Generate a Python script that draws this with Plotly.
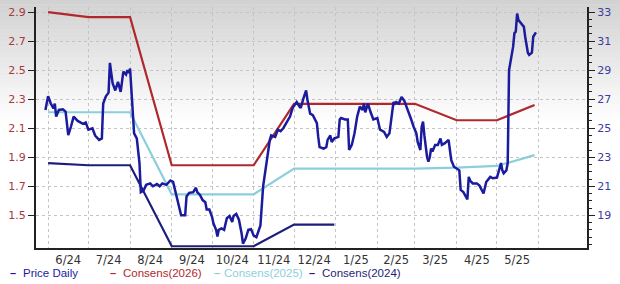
import plotly.graph_objects as go

# ---------------- data ----------------
price_dates = [
    "2024-05-30", "2024-06-01", "2024-06-03", "2024-06-05", "2024-06-06", "2024-06-07", "2024-06-09",
    "2024-06-12", "2024-06-14", "2024-06-16", "2024-06-18", "2024-06-20", "2024-06-23", "2024-06-27",
    "2024-06-29", "2024-07-01", "2024-07-04", "2024-07-06", "2024-07-09", "2024-07-11", "2024-07-12",
    "2024-07-14", "2024-07-16", "2024-07-17", "2024-07-19", "2024-07-21", "2024-07-23", "2024-07-24",
    "2024-07-25", "2024-07-27", "2024-07-29", "2024-07-30", "2024-07-31", "2024-08-01", "2024-08-04",
    "2024-08-06", "2024-08-08", "2024-08-09", "2024-08-11", "2024-08-13", "2024-08-16", "2024-08-18",
    "2024-08-21", "2024-08-23", "2024-08-25", "2024-08-28", "2024-08-31", "2024-09-02", "2024-09-04",
    "2024-09-06", "2024-09-08", "2024-09-11", "2024-09-12", "2024-09-14", "2024-09-17", "2024-09-19",
    "2024-09-20", "2024-09-22", "2024-09-24", "2024-09-26", "2024-09-27", "2024-09-29", "2024-10-01",
    "2024-10-02", "2024-10-04", "2024-10-05", "2024-10-06", "2024-10-08", "2024-10-10", "2024-10-12",
    "2024-10-14", "2024-10-16", "2024-10-17", "2024-10-19", "2024-10-21", "2024-10-23", "2024-10-24",
    "2024-10-26", "2024-10-28", "2024-10-30", "2024-11-01", "2024-11-03", "2024-11-05", "2024-11-06",
    "2024-11-08", "2024-11-11", "2024-11-13", "2024-11-14", "2024-11-17", "2024-11-19", "2024-11-21",
    "2024-11-23", "2024-11-25", "2024-11-28", "2024-11-30", "2024-12-03", "2024-12-05", "2024-12-06",
    "2024-12-08", "2024-12-10", "2024-12-11", "2024-12-13", "2024-12-15", "2024-12-18", "2024-12-19",
    "2024-12-20", "2024-12-23", "2024-12-25", "2024-12-26", "2024-12-28", "2024-12-29", "2024-12-31",
    "2025-01-03", "2025-01-04", "2025-01-05", "2025-01-08", "2025-01-10", "2025-01-11", "2025-01-13",
    "2025-01-15", "2025-01-17", "2025-01-19", "2025-01-21", "2025-01-22", "2025-01-23", "2025-01-25",
    "2025-01-27", "2025-01-29", "2025-02-01", "2025-02-02", "2025-02-03", "2025-02-06", "2025-02-08",
    "2025-02-10", "2025-02-12", "2025-02-13", "2025-02-14", "2025-02-15", "2025-02-17", "2025-02-19",
    "2025-02-21", "2025-02-23", "2025-02-25", "2025-02-26", "2025-02-28", "2025-03-02", "2025-03-03",
    "2025-03-05", "2025-03-06", "2025-03-07", "2025-03-08", "2025-03-10", "2025-03-11", "2025-03-12",
    "2025-03-13", "2025-03-14", "2025-03-16", "2025-03-18", "2025-03-20", "2025-03-21", "2025-03-23",
    "2025-03-26", "2025-03-27", "2025-03-28", "2025-03-30", "2025-04-01", "2025-04-03", "2025-04-04",
    "2025-04-06", "2025-04-09", "2025-04-10", "2025-04-11", "2025-04-13", "2025-04-16", "2025-04-18",
    "2025-04-21", "2025-04-23", "2025-04-26", "2025-04-28", "2025-05-01", "2025-05-03", "2025-05-04",
    "2025-05-05", "2025-05-06", "2025-05-08", "2025-05-09", "2025-05-10", "2025-05-11", "2025-05-13",
    "2025-05-14", "2025-05-15", "2025-05-16", "2025-05-17", "2025-05-20", "2025-05-21", "2025-05-22",
    "2025-05-24", "2025-05-25", "2025-05-27", "2025-05-28", "2025-05-30",
]
price_values = [
    26.26, 27.2, 26.7, 26.37, 26.7, 25.8, 26.26,
    26.3, 26.14, 24.53, 25.1, 25.8, 25.5, 25.3,
    25.4, 24.9, 25.0, 24.5, 24.2, 24.3, 26.7,
    27.2, 27.45, 29.5, 28.1, 27.6, 28.2, 27.9,
    27.5, 28.9, 28.7, 29.0, 28.8, 29.1, 24.65,
    24.3, 22.6, 20.6, 20.7, 21.1, 21.2, 21.0,
    21.15, 21.0, 21.2, 21.1, 21.4, 21.3, 20.5,
    19.6, 19.0, 19.0, 20.3, 20.55, 20.6, 20.9,
    20.6, 20.4, 20.05, 19.9, 19.4, 19.4, 18.9,
    18.45, 18.0, 17.55, 18.0, 18.1, 18.0, 18.8,
    18.95, 18.55, 18.95, 19.1, 18.7, 17.75, 17.05,
    17.4, 18.0, 18.05, 17.6, 17.5, 18.0, 18.3,
    21.0, 23.0, 24.2, 24.5, 24.4, 24.9, 24.8,
    25.0, 25.35, 25.8, 26.4, 26.8, 26.5, 26.4,
    27.05, 27.6, 26.95, 26.0, 25.9, 25.35, 24.4,
    23.7, 23.6, 23.7, 24.2, 24.5, 24.05, 24.3,
    24.4, 25.6, 25.7, 25.6, 25.6, 23.5, 23.85,
    24.65, 25.8, 26.5, 26.25, 26.7, 26.1, 26.7,
    26.1, 25.6, 25.7, 25.35, 24.9, 24.75, 24.4,
    24.65, 26.1, 26.8, 26.7, 26.8, 26.7, 27.15,
    26.9, 26.45, 26.0, 25.65, 25.1, 24.65, 24.05,
    23.5, 25.1, 25.45, 24.5, 23.0, 22.7, 23.0,
    23.6, 23.4, 23.85, 23.85, 24.3, 23.85, 23.95,
    24.2, 23.5, 22.8, 22.35, 22.25, 22.1, 20.75,
    20.6, 20.1, 21.65, 21.4, 21.2, 21.2, 21.05,
    20.5, 21.3, 21.65, 21.55, 21.6, 22.3, 22.6,
    22.1, 21.9, 22.1, 22.6, 29.0, 29.5, 30.6,
    31.55, 31.65, 32.9, 32.45, 32.1, 32.0, 31.3,
    30.2, 30.05, 30.2, 31.3, 31.6,
]

cons_dates = ["2024-06-01", "2024-07-01", "2024-08-01", "2024-09-01", "2024-10-01", "2024-11-01",
              "2024-12-01", "2025-01-01", "2025-02-01", "2025-03-01", "2025-04-01", "2025-05-01",
              "2025-05-29"]
cons_2026 = [2.90, 2.865, 2.865, 1.845, 1.845, 1.845, 2.268, 2.268, 2.268, 2.268, 2.155, 2.155, 2.26]
cons_2025 = [2.21, 2.21, 2.21, 1.645, 1.645, 1.645, 1.822, 1.822, 1.822, 1.822, 1.829, 1.84, 1.915]
cons_2024_dates = ["2024-06-01", "2024-07-01", "2024-08-01", "2024-09-01", "2024-10-01", "2024-11-01",
                   "2024-12-01", "2024-12-31"]
cons_2024 = [1.86, 1.845, 1.845, 1.287, 1.287, 1.287, 1.436, 1.436]

x_tick_vals = ["2024-06-16", "2024-07-16", "2024-08-16", "2024-09-16", "2024-10-16", "2024-11-16",
               "2024-12-16", "2025-01-16", "2025-02-15", "2025-03-16", "2025-04-16", "2025-05-16"]
x_tick_text = ["6/24", "7/24", "8/24", "9/24", "10/24", "11/24", "12/24", "1/25", "2/25", "3/25",
               "4/25", "5/25"]
month_starts = ["2024-06-01", "2024-07-01", "2024-08-01", "2024-09-01", "2024-10-01", "2024-11-01",
                "2024-12-01", "2025-01-01", "2025-02-01", "2025-03-01", "2025-04-01", "2025-05-01",
                "2025-06-01"]
left_ticks = [1.5, 1.7, 1.9, 2.1, 2.3, 2.5, 2.7, 2.9]
left_text = ["1.5", "1.7", "1.9", "2.1", "2.3", "2.5", "2.7", "2.9"]
right_ticks = [19, 21, 23, 25, 27, 29, 31, 33]

legend_names = ["Price Daily", "Consens(2026)", "Consens(2025)", "Consens(2024)"]

# ---------------- style ----------------
C_PRICE = "#1b1b9e"
C_2026 = "#b0282c"
C_2025 = "#8ccfdc"
C_2024 = "#1c1f7a"
W, H = 620, 284
ML, MR, MT, MB = 36, 33, 7, 36
PW, PH = W - ML - MR, H - MT - MB

fig = go.Figure()
fig.add_trace(go.Scatter(x=cons_dates, y=cons_2025, mode="lines", name=legend_names[2],
                         line=dict(color=C_2025, width=2.2), yaxis="y"))
fig.add_trace(go.Scatter(x=cons_2024_dates, y=cons_2024, mode="lines", name=legend_names[3],
                         line=dict(color=C_2024, width=2.2), yaxis="y"))
fig.add_trace(go.Scatter(x=cons_dates, y=cons_2026, mode="lines", name=legend_names[1],
                         line=dict(color=C_2026, width=2.2), yaxis="y"))
fig.add_trace(go.Scatter(x=price_dates, y=price_values, mode="lines", name=legend_names[0],
                         line=dict(color=C_PRICE, width=2.5), yaxis="y2"))

# background gradient bands (top of figure grey to white)
shapes = []
n = 30
grad_px = 125
for i in range(n):
    p0 = i * grad_px / n
    p1 = (i + 1) * grad_px / n + 0.5
    t = i / (n - 1)
    g = int(round(0xd2 + (0xff - 0xd2) * t))
    col = f"rgb({g},{g},{g})"
    shapes.append(dict(type="rect", xref="paper", yref="paper",
                       x0=-ML / PW, x1=(W - ML) / PW,
                       y0=(H - MB - p1) / PH, y1=(H - MB - p0) / PH,
                       fillcolor=col, line=dict(width=0), layer="below"))

annotations = []
leg_colors = [C_PRICE, C_2026, C_2025, C_2024]
dash_x = [8, 108, 212, 307]
text_x = [21, 121, 222, 320]
for name, c, dx, tx in zip(legend_names, leg_colors, dash_x, text_x):
    annotations.append(dict(xref="paper", yref="paper", x=0, y=0, xanchor="left", yanchor="middle",
                            xshift=dx - ML, yshift=-(273 - (H - MB)), showarrow=False,
                            text="<b>–</b>", font=dict(family="Liberation Sans", size=11, color=c)))
    annotations.append(dict(xref="paper", yref="paper", x=0, y=0, xanchor="left", yanchor="middle",
                            xshift=tx - ML, yshift=-(273 - (H - MB)), showarrow=False,
                            text=name, font=dict(family="Liberation Sans", size=11.5, color=c)))

left_range = [1.275, 2.935]
fig.update_layout(
    width=W, height=H,
    margin=dict(l=ML, r=MR, t=MT, b=MB, pad=0),
    paper_bgcolor="white",
    plot_bgcolor="rgba(0,0,0,0)",
    showlegend=False,
    shapes=shapes,
    annotations=annotations,
    font=dict(family="DejaVu Sans", size=11),
    xaxis=dict(
        type="date",
        range=["2024-05-23", "2025-07-07"],
        tickmode="array", tickvals=x_tick_vals, ticktext=x_tick_text,
        showgrid=False, ticks="", tickfont=dict(family="DejaVu Sans", size=11.5, color="#333333"),
        showline=True, linecolor="#222222", linewidth=2,
        minor=dict(tickmode="array", tickvals=month_starts, showgrid=True,
                   gridcolor="#c4c4c4", griddash="dot", gridwidth=1, ticks=""),
        zeroline=False, fixedrange=True,
    ),
    yaxis=dict(
        range=left_range,
        tickmode="array", tickvals=left_ticks, ticktext=left_text,
        tickfont=dict(family="DejaVu Sans", size=11, color="#a8383c"),
        ticks="outside", ticklen=6, tickcolor="#222222", tickwidth=1,
        showgrid=True, gridcolor="#c4c4c4", griddash="dot", gridwidth=1,
        showline=True, linecolor="#222222", linewidth=2,
        zeroline=False,
    ),
    yaxis2=dict(
        overlaying="y", side="right",
        range=[left_range[0] * 10 + 4, left_range[1] * 10 + 4],
        tickmode="array", tickvals=right_ticks,
        tickfont=dict(family="DejaVu Sans", size=11, color="#3c3ca0"),
        ticks="outside", ticklen=6, tickcolor="#222222", tickwidth=1,
        minor=dict(dtick=0.5, ticks="outside", ticklen=3, tickcolor="#222222", showgrid=False),
        showgrid=False, showline=True, linecolor="#222222", linewidth=2,
        zeroline=False,
    ),
)

fig.write_html("out.html")
